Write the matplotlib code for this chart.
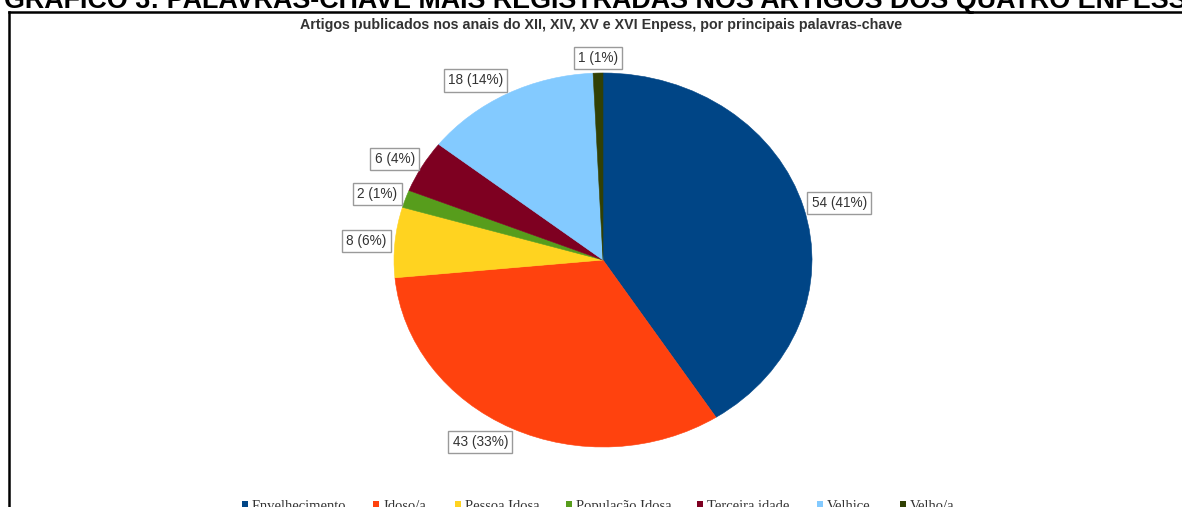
import matplotlib.pyplot as plt
from matplotlib.lines import Line2D
from matplotlib.patches import Rectangle
import numpy as np

W, H = 1182, 507

keywords = ['Envelhecimento', 'Idoso/a', 'Pessoa Idosa', 'População Idosa',
            'Terceira idade', 'Velhice', 'Velho/a']
counts = [54, 43, 8, 2, 6, 18, 1]
percents = [41, 33, 6, 1, 4, 14, 1]
colors = ['#004586', '#ff420e', '#ffd320', '#579d1c', '#7e0021', '#83caff', '#314004']

title = 'GRÁFICO 3: PALAVRAS-CHAVE MAIS REGISTRADAS NOS ARTIGOS DOS QUATRO ENPESS'
subtitle = 'Artigos publicados nos anais do XII, XIV, XV e XVI Enpess, por principais palavras-chave'


def px(x, y):
  # pixel position (from top-left) -> figure fraction
  return x / W, 1 - y / H


fig = plt.figure(figsize=(W / 100, H / 100), dpi=100)

# frame around the chart (only top and left edges are inside the page)
fig.add_artist(Line2D([8.5 / W, 1.0], [1 - 11.5 / H] * 2, color='black', lw=1.8, transform=fig.transFigure))
fig.add_artist(Line2D([8.5 / W] * 2, [0.0, 1 - 11.5 / H], color='black', lw=1.8, transform=fig.transFigure))

fig.text(*px(4, 8), title, fontsize=19.35, fontweight='bold', family='Liberation Sans',
         ha='left', va='baseline', color='black')
fig.text(*px(601, 25), subtitle, fontsize=10.3, fontweight='bold', family='Liberation Sans',
         ha='center', va='center', color='#333333')

# elliptical pie: axes box spans the pie bounding box
cx, cy, rx, ry = 603, 260, 209, 187
ax = fig.add_axes([(cx - rx) / W, 1 - (cy + ry) / H, 2 * rx / W, 2 * ry / H])
wedges, _ = ax.pie(counts, colors=colors, startangle=90, counterclock=False)
for w in wedges:
  w.set_edgecolor(w.get_facecolor())
  w.set_linewidth(0.4)
ax.set_aspect('auto')
ax.set_xlim(-1, 1)
ax.set_ylim(-1, 1)
ax.axis('off')

for w, n, p in zip(wedges, counts, percents):
  mid = np.deg2rad((w.theta1 + w.theta2) / 2)
  dx, dy = np.cos(mid), np.sin(mid)
  if dx > 0.15:
    ha = 'left'
  elif dx < -0.15:
    ha = 'right'
  else:
    ha = 'center'
  ax.text(1.04 * dx, 1.08 * dy, f'{n} ({p}%)', fontsize=9.8, family='Liberation Sans',
          color='#333333', ha=ha, va='center',
          bbox=dict(boxstyle='square,pad=0.3', facecolor='white', edgecolor='#9a9a9a', linewidth=1))

# legend row along the bottom edge
legend_x = [245, 376, 458, 569, 700, 820, 903]
for x, name, c in zip(legend_x, keywords, colors):
  fig.add_artist(Rectangle(px(x - 3, 507), 6 / W, 6 / H, facecolor=c, edgecolor='none',
                           transform=fig.transFigure))
  fig.text(*px(x + 7, 510), name, fontsize=10.5, family='Liberation Serif',
           ha='left', va='baseline', color='#333333')

fig.savefig('out.png', dpi=100)
